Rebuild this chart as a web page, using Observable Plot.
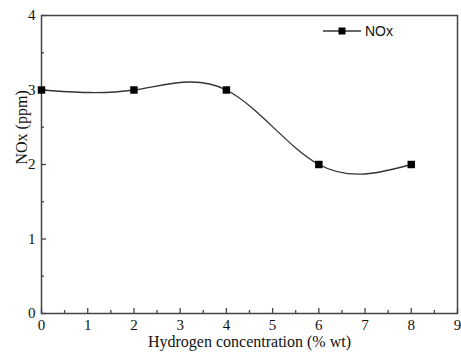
<!DOCTYPE html>
<html>
<head>
<meta charset="utf-8">
<script src="https://cdn.jsdelivr.net/npm/d3@7"></script>
<script src="https://cdn.jsdelivr.net/npm/@observablehq/plot@0.6"></script>
<style>
  html, body { margin: 0; padding: 0; background: #fff; }
  #wrap { position: relative; width: 461px; height: 356px; }
  #legend { position: absolute; left: 323px; top: 23px; display: flex; align-items: center;
            font-family: "Liberation Sans", Arial, sans-serif; font-size: 14px; color: #111; }
  #legend svg { display: block; margin-right: 4px; }
</style>
</head>
<body>
<div id="wrap"><div id="legend"></div></div>
<script>
const hydrogen = [0, 2, 4, 6, 8];
const nox = [3, 3, 3, 2, 2];
const seriesName = "NOx";
const xTicks = [0, 1, 2, 3, 4, 5, 6, 7, 8, 9];
const yTicks = [0, 1, 2, 3, 4];
const xMinor = [0.5, 1.5, 2.5, 3.5, 4.5, 5.5, 6.5, 7.5, 8.5];
const yMinor = [0.5, 1.5, 2.5, 3.5];
const xTitle = "Hydrogen concentration (% wt)";
const yTitle = "NOx (ppm)";

const data = hydrogen.map((h, i) => ({h, v: nox[i]}));
const ink = "#333";
const axisInk = "#444";
const serif = "'Liberation Serif', 'Times New Roman', serif";
const fmt = d => String(d);
const zero = () => 0;

const chart = Plot.plot({
  width: 461,
  height: 356,
  marginLeft: 41,
  marginRight: 4,
  marginTop: 15,
  marginBottom: 43,
  style: {fontFamily: serif, fontSize: "15px", color: "#111", background: "#fff"},
  x: {domain: [0, 9]},
  y: {domain: [0, 4]},
  marks: [
    Plot.axisX(xTicks, {tickSize: 0, tickPadding: 6, tickFormat: fmt, label: null, fill: "#111", fontFamily: serif, fontSize: 15}),
    Plot.axisY(yTicks, {tickSize: 0, tickPadding: 6, tickFormat: fmt, label: null, fill: "#111", fontFamily: serif, fontSize: 15}),
    Plot.frame({stroke: axisInk, strokeWidth: 1.5}),
    Plot.ruleX(xTicks, {x: d => d, y1: zero, y2: zero, insetBottom: 5, stroke: axisInk, strokeWidth: 1.3}),
    Plot.ruleX(xMinor, {x: d => d, y1: zero, y2: zero, insetBottom: 3, stroke: axisInk, strokeWidth: 1.3}),
    Plot.ruleY(yTicks, {y: d => d, x1: zero, x2: zero, insetRight: -5, stroke: axisInk, strokeWidth: 1.3}),
    Plot.ruleY(yMinor, {y: d => d, x1: zero, x2: zero, insetRight: -3, stroke: axisInk, strokeWidth: 1.3}),
    Plot.text([xTitle], {frameAnchor: "bottom", dy: 33, text: d => d, fontSize: 16, fontFamily: serif, fill: "#111"}),
    Plot.text([yTitle], {frameAnchor: "left", dx: -20, rotate: -90, text: d => d, fontSize: 16, fontFamily: serif, fill: "#111"}),
    Plot.line(data, {x: "h", y: "v", curve: "natural", stroke: ink, strokeWidth: 1.3}),
    Plot.dot(data, {x: "h", y: "v", symbol: "square", r: 4.2, fill: "#000", stroke: "none"})
  ]
});
document.getElementById("wrap").prepend(chart);

const legend = document.getElementById("legend");
legend.innerHTML = `<svg width="38" height="12"><line x1="0" x2="38" y1="6" y2="6" stroke="${ink}" stroke-width="1.3"/><rect x="15.5" y="2.5" width="7" height="7" fill="#000"/></svg><span>${seriesName}</span>`;
</script>
</body>
</html>
